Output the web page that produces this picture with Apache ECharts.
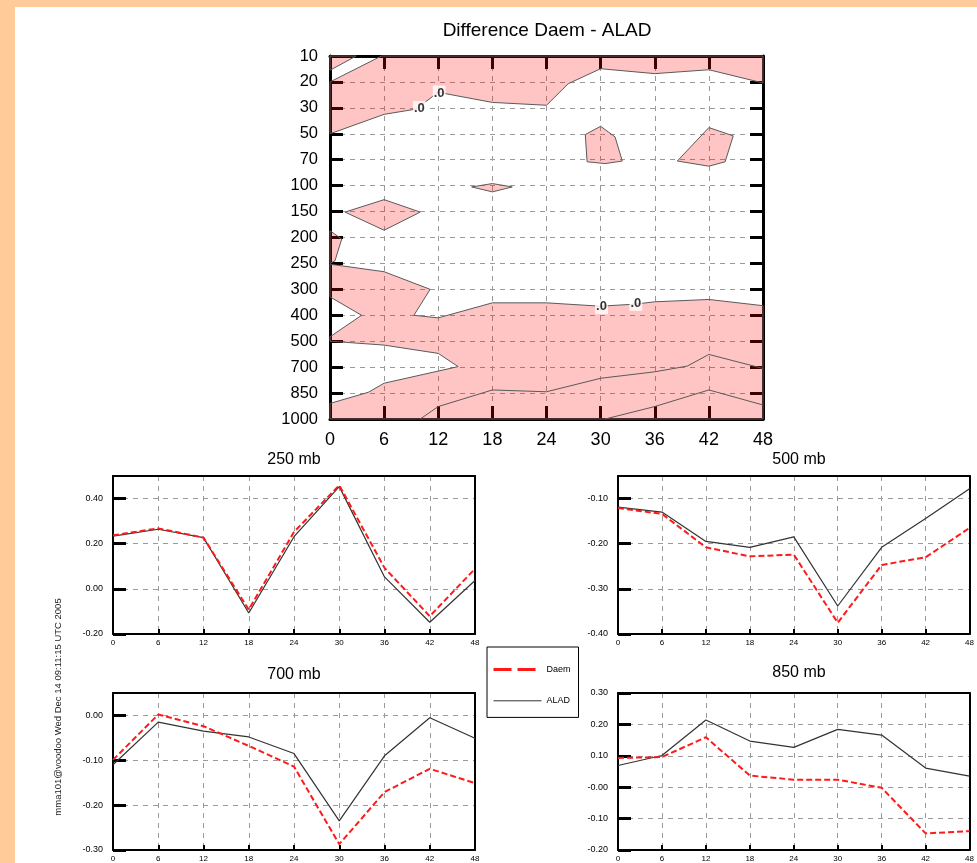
<!DOCTYPE html>
<html><head><meta charset="utf-8">
<script src="https://cdn.jsdelivr.net/npm/echarts@6/dist/echarts.min.js"></script>
<style>html,body{margin:0;padding:0;background:#fff}#c{width:977px;height:863px}</style>
</head><body><div id="c"></div>
<script>
// ---------- data ----------
const hours = [0, 6, 12, 18, 24, 30, 36, 42, 48];
const levels = ['10','20','30','50','70','100','150','200','250','300','400','500','700','850','1000'];

// Negative (pink) regions of the difference field, vertices [hour, level position] (0 = 10 mb ... 14 = 1000 mb)
const negTopLeft = [[0,0],[2.9,0],[0,0.55]];
const negTop = [[0,1.0],[5.7,0],[48,0],[48,1.04],[42,0.53],[36,0.68],[30,0.49],[26.4,1.07],[24,1.9],[18,1.79],[12,1.4],[9.5,2.05],[6,2.25],[0,3.0]];
const neg30 = [[28.3,3.03],[30,2.71],[31.6,3.12],[32.4,4.05],[30.5,4.15],[28.5,4.08]];
const neg42 = [[38.5,4.05],[42,2.76],[44.7,3.08],[43.8,4.08],[42,4.25]];
const neg18 = [[15.7,5.05],[18,4.92],[20.2,5.05],[18,5.24]];
const neg6 = [[1.66,6.02],[6,5.54],[10,6.02],[6,6.72]];
const negLeft = [[0,6.74],[1.3,7.06],[0.55,7.9],[0,8.0]];
const negLow = [[0,8.03],[6,8.32],[11.1,9.0],[9.3,10.0],[12,10.1],[18,9.52],[24,9.52],[30,9.65],[33.8,9.57],[36,9.48],[42,9.39],[48,9.63],[48,14],[0,14],[0,13.4],[4.25,12.97],[6,12.62],[14.2,11.98],[12,11.47],[6,11.15],[0,11.0],[0,10.83],[3.5,10.0],[0,9.29]];
const contourLineA = [[10,14],[12,13.52],[18,12.88],[24,12.95],[30,12.43],[36,12.18],[39.6,11.96],[42,11.51],[48,12.05]];
const contourLineB = [[30.5,14],[36,13.52],[42,12.88],[48,13.46]];
const zeroLabels = [[9.9,2.03],[12.1,1.43],[30.1,9.67],[33.9,9.54]];

// line panels
const daem250 = [0.237,0.268,0.227,-0.092,0.252,0.459,0.093,-0.121,0.089];
const alad250 = [0.234,0.264,0.227,-0.107,0.231,0.453,0.053,-0.148,0.037];
const daem500 = [-0.121,-0.134,-0.208,-0.228,-0.224,-0.375,-0.247,-0.230,-0.165];
const alad500 = [-0.119,-0.130,-0.195,-0.208,-0.185,-0.338,-0.208,-0.144,-0.078];
const daem700 = [-0.099,0.002,-0.024,-0.068,-0.114,-0.287,-0.171,-0.119,-0.151];
const alad700 = [-0.110,-0.015,-0.035,-0.048,-0.085,-0.235,-0.090,-0.005,-0.051];
const daem850 = [0.093,0.096,0.159,0.037,0.024,0.024,-0.002,-0.147,-0.140];
const alad850 = [0.069,0.101,0.214,0.147,0.127,0.184,0.166,0.061,0.035];

const panelTitles = ['250 mb','500 mb','700 mb','850 mb'];
const panelRanges = [[-0.2,0.5,0.2],[-0.4,-0.05,0.1],[-0.3,0.05,0.1],[-0.2,0.3,0.1]];
const zeroTexts = ['0.00','0.00','0.00','-0.00'];
const mainTitle = 'Difference Daem - ALAD';
const footer = 'mma101@voodoo Wed Dec 14 09:11:15 UTC 2005';

// ---------- chart ----------
const FONT = '"Liberation Sans", Arial, Helvetica, sans-serif';
const chart = echarts.init(document.getElementById('c'));
const negPolys = [negTopLeft, negTop, neg30, neg42, neg18, neg6, negLeft, negLow];
const contourLines = [contourLineA, contourLineB];

const grids = [
  {left:330, top:56, width:433, height:363},
  {left:113, top:476, width:362, height:158},
  {left:618, top:476, width:362, height:158},
  {left:113, top:693, width:362, height:158},
  {left:618, top:693, width:362, height:158}
];
const dash = {type:[5,5], color:'#9a9a9a', width:1};
const line3 = {show:true, onZero:false, lineStyle:{color:'#000', width:3}};
const line2 = {show:true, onZero:false, lineStyle:{color:'#000', width:2}};

const xAxis = [], yAxis = [];
// contour panel axes
xAxis.push({gridIndex:0, type:'value', min:0, max:48, interval:6, position:'bottom',
  axisLine:line3,
  axisTick:{show:true, inside:true, length:13, lineStyle:{color:'#000', width:3}},
  axisLabel:{fontSize:18, color:'#000', fontFamily:FONT, margin:12},
  splitLine:{show:true, lineStyle:dash}});
xAxis.push({gridIndex:0, type:'value', min:0, max:48, interval:6, position:'top',
  axisLine:line3,
  axisTick:{show:true, inside:true, length:13, lineStyle:{color:'#000', width:3}},
  axisLabel:{show:false}, splitLine:{show:false}});
yAxis.push({gridIndex:0, type:'value', min:0, max:14, interval:1, inverse:true, position:'left',
  axisLine:line3,
  axisTick:{show:true, inside:true, length:13, lineStyle:{color:'#000', width:3}},
  axisLabel:{fontSize:16.5, color:'#000', fontFamily:FONT, margin:12, formatter:v=>levels[Math.round(v)]},
  splitLine:{show:true, lineStyle:dash}});
yAxis.push({gridIndex:0, type:'value', min:0, max:14, interval:1, inverse:true, position:'right',
  axisLine:line3,
  axisTick:{show:true, inside:true, length:13, lineStyle:{color:'#000', width:3}},
  axisLabel:{show:false}, splitLine:{show:false}});

// line panels axes
for (let k = 0; k < 4; k++) {
  const g = k + 1, r = panelRanges[k], zt = zeroTexts[k];
  xAxis.push({gridIndex:g, type:'value', min:0, max:48, interval:6, position:'bottom',
    axisLine:line2,
    axisTick:{show:true, inside:true, length:5, lineStyle:{color:'#000', width:2}},
    axisLabel:{fontSize:8, color:'#000', fontFamily:FONT, margin:5},
    splitLine:{show:true, lineStyle:dash}});
  xAxis.push({gridIndex:g, type:'value', min:0, max:48, position:'top',
    axisLine:line2, axisTick:{show:false}, axisLabel:{show:false}, splitLine:{show:false}});
  yAxis.push({gridIndex:g, type:'value', min:r[0], max:r[1], interval:r[2], position:'left',
    axisLine:line2,
    axisTick:{show:true, inside:true, length:13, lineStyle:{color:'#000', width:3}},
    axisLabel:{fontSize:9, color:'#000', fontFamily:FONT, margin:10, showMaxLabel: (k===3),
      formatter:v=>Math.abs(v)<1e-9 ? zt : v.toFixed(2)},
    splitLine:{show:true, lineStyle:dash}});
  yAxis.push({gridIndex:g, type:'value', min:r[0], max:r[1], position:'right',
    axisLine:line2, axisTick:{show:false}, axisLabel:{show:false}, splitLine:{show:false}});
}

const series = [];
series.push({type:'custom', xAxisIndex:0, yAxisIndex:0, z:2, silent:true,
  data: negPolys.map(p => p[0]),
  renderItem:(params, api) => ({type:'polygon',
    shape:{points: negPolys[params.dataIndex].map(p => api.coord(p))},
    style:{fill:'rgba(255,0,0,0.23)', stroke:'#5a5a5a', lineWidth:1}})
});
series.push({type:'custom', xAxisIndex:0, yAxisIndex:0, z:3, silent:true,
  data: contourLines.map(p => p[0]),
  renderItem:(params, api) => ({type:'polyline',
    shape:{points: contourLines[params.dataIndex].map(p => api.coord(p))},
    style:{fill:null, stroke:'#5a5a5a', lineWidth:1}})
});
series.push({type:'scatter', xAxisIndex:0, yAxisIndex:0, z:4, silent:true, symbolSize:0,
  data: zeroLabels,
  label:{show:true, position:'inside', formatter:'.0', fontSize:13, fontWeight:'bold', color:'#000',
    backgroundColor:'#fff', padding:[1,1], fontFamily:FONT}});

const daemSets = [daem250, daem500, daem700, daem850];
const aladSets = [alad250, alad500, alad700, alad850];
for (let k = 0; k < 4; k++) {
  const ax = 2 * (k + 1);
  series.push({type:'line', name:'ALAD', xAxisIndex:ax, yAxisIndex:ax, symbol:'none', z:3, silent:true,
    data: hours.map((h, i) => [h, aladSets[k][i]]),
    itemStyle:{color:'#333'},
    lineStyle:{color:'#333', width:1.2}});
  series.push({type:'line', name:'Daem', xAxisIndex:ax, yAxisIndex:ax, symbol:'none', z:4, silent:true,
    data: hours.map((h, i) => [h, daemSets[k][i]]),
    itemStyle:{color:'#ff1a1a'},
    lineStyle:{color:'#ff1a1a', width:2, type:[6,3]}});
}

const titlePos = [[294,460],[799,460],[294,675],[799,673]];
const graphic = [
  {type:'rect', shape:{x:0, y:0, width:15, height:863}, style:{fill:'#FFCB98'}, z:100, silent:true},
  {type:'rect', shape:{x:0, y:0, width:977, height:7}, style:{fill:'#FFCB98'}, z:100, silent:true},
  {type:'text', x:547, y:31, style:{text:mainTitle, font:'19px ' + FONT, fill:'#000', textAlign:'center', textVerticalAlign:'middle'}},
  {type:'text', x:58, y:707, rotation:Math.PI/2, style:{text:footer, font:'9.5px ' + FONT, fill:'#222', textAlign:'center', textVerticalAlign:'middle'}}
];
panelTitles.forEach((t, i) => graphic.push({type:'text', x:titlePos[i][0], y:titlePos[i][1],
  style:{text:t, font:'16px ' + FONT, fill:'#000', textAlign:'center', textVerticalAlign:'middle'}}));

chart.setOption({
  backgroundColor:'#fff',
  animation:false,
  grid: grids,
  xAxis, yAxis, series, graphic,
  legend:{show:true, orient:'vertical', left:487, top:647, selectedMode:false,
    padding:[17,8,11,5], itemGap:20, itemWidth:48, itemHeight:14,
    borderColor:'#000', borderWidth:1,
    itemStyle:{opacity:0},
    textStyle:{fontSize:9, color:'#000', fontFamily:FONT},
    data:[{name:'Daem', itemStyle:{opacity:0}, lineStyle:{type:[18,6], width:3, color:'#ff1a1a'}},
          {name:'ALAD', itemStyle:{opacity:0}, lineStyle:{color:'#333', width:1}}]}
});
</script></body></html>
